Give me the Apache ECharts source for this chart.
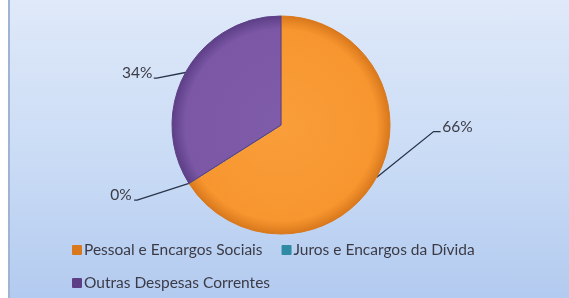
<!DOCTYPE html>
<html>
<head>
<meta charset="utf-8">
<script src="https://cdn.jsdelivr.net/npm/echarts@6/dist/echarts.min.js"></script>
<style>
  html, body { margin: 0; padding: 0; }
  .container {
    position: relative;
    width: 569px;
    height: 298px;
    background: linear-gradient(to bottom, #dfe9f9 0%, #c9dbf5 55%, #b3cbf0 100%);
  }
  .edge {
    position: absolute;
    left: 0; top: 0;
    width: 8px; height: 298px;
    background: #ffffff;
    border-right: 2px solid #9fb4d3;
  }
  .echarts { position: absolute; left: 0; top: 0; width: 569px; height: 298px; }
</style>
</head>
<body>
<div class="container">
  <div id="chart" class="echarts"></div>
  <div class="edge"></div>
</div>
<script>
const categories = ['Pessoal e Encargos Sociais', 'Juros e Encargos da Dívida', 'Outras Despesas Correntes']
const shares = [66, 0, 34]
const colors = ['#f7962f', '#4bacc6', '#7b57a6']
const lightColors = ['#f99e3a', '#5bb8d0', '#7f5caa']
const borders = ['#d9781c', '#2f8aa3', '#5d3f86']

const cx = 281, cy = 125, r = 109

// onde fica cada rótulo (relativo ao centro / raio)
const labelSpots = [
  { dx: 1.48, dy: 0.02, bend: [1.40, 0.06], align: 'left' },
  { dx: -1.37, dy: 0.64, bend: [-1.32, 0.69], align: 'right' },
  { dx: -1.18, dy: -0.48, bend: [-1.14, -0.43], align: 'right' }
]

const legendBase = {
  left: 72,
  padding: 0,
  itemWidth: 8,
  itemHeight: 8,
  itemGap: 19,
  icon: 'rect',
  textStyle: { fontFamily: 'Lato', fontSize: 15.5, color: '#3b3b46', padding: [0, 0, 0, -2] }
}

const myChart = echarts.init(document.getElementById('chart'))

const option = {
  animation: false,
  color: colors,
  legend: [
    Object.assign({}, legendBase, { top: 242, data: categories.slice(0, 2) }),
    Object.assign({}, legendBase, { top: 275, data: categories.slice(2) })
  ],
  series: [
    {
      type: 'pie',
      center: [cx, cy],
      radius: r,
      startAngle: 90,
      clockwise: true,
      avoidLabelOverlap: false,
      stillShowZeroSum: true,
      minShowLabelAngle: 0,
      label: {
        show: true,
        formatter: p => Math.round(p.percent) + '%',
        fontFamily: 'Lato',
        fontSize: 15.5,
        color: '#3b3b46'
      },
      labelLine: {
        show: true,
        lineStyle: { color: '#27344a', width: 1.3 }
      },
      labelLayout: function (params) {
        const s = labelSpots[params.dataIndex]
        const p0 = params.labelLinePoints ? params.labelLinePoints[0] : [cx, cy]
        const bx = cx + s.bend[0] * r, by = cy + s.bend[1] * r
        const ex = s.align === 'left' ? bx + 7 : bx - 3
        return {
          x: cx + s.dx * r,
          y: cy + s.dy * r,
          align: s.align,
          verticalAlign: 'middle',
          labelLinePoints: [p0, [bx, by], [ex, by]]
        }
      },
      data: categories.map((name, i) => ({
        name: name,
        value: shares[i],
        itemStyle: {
          color: {
            type: 'radial', x: cx, y: cy, r: r, global: true,
            colorStops: [
              { offset: 0, color: lightColors[i] },
              { offset: 0.88, color: colors[i] },
              { offset: 1, color: borders[i] }
            ]
          },
          borderColor: borders[i],
          borderWidth: 1
        }
      }))
    }
  ]
}

myChart.setOption(option)
</script>
</body>
</html>
